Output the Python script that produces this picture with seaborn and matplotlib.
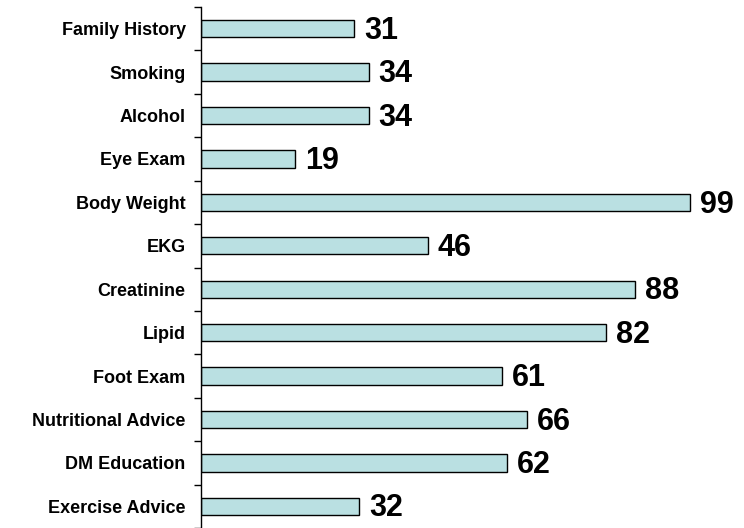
import matplotlib
matplotlib.use("Agg")
import matplotlib.pyplot as plt
import seaborn as sns
import pandas as pd

categories = ["Family History", "Smoking", "Alcohol", "Eye Exam", "Body Weight", "EKG",
              "Creatinine", "Lipid", "Foot Exam", "Nutritional Advice", "DM Education",
              "Exercise Advice"]
values = [31, 34, 34, 19, 99, 46, 88, 82, 61, 66, 62, 32]

sns.set_style("white")
plt.rcParams['font.family'] = ['Liberation Sans', 'DejaVu Sans']
plt.rcParams['text.color'] = 'black'
plt.rcParams['ytick.color'] = 'black'
plt.rcParams['ytick.labelcolor'] = 'black'

df = pd.DataFrame({"item": categories, "pct": values})

fig = plt.figure(figsize=(7.44, 5.28), dpi=100)
ax = fig.add_axes([201 / 744, 0.0, 1 - 201 / 744, 1 - 7 / 528])

sns.barplot(data=df, x="pct", y="item", orient="h", color="#BAE0E2",
            edgecolor="black", linewidth=1.0, width=0.40, saturation=1, ax=ax)

for i, v in enumerate(values):
    ax.text(v + 2.0, i + 0.05, str(v), va="center", ha="left", fontsize=22,
            fontweight="bold", color="black")

ax.set_xlim(0, 110)
ax.set_ylim(11.5 - 4 / 43.7, -0.5)
ax.set_xlabel("")
ax.set_ylabel("")
ax.set_xticks([])

ax.set_yticks(range(len(categories)))
ax.set_yticklabels(categories, fontsize=13, fontweight="bold", color="black")
ax.tick_params(axis="y", which="major", length=0, pad=11)
ax.set_yticks([i - 0.5 for i in range(len(categories) + 1)], minor=True)
ax.tick_params(axis="y", which="minor", left=True, length=5, width=1,
               color="black", direction="out")

for side in ["top", "right", "bottom"]:
    ax.spines[side].set_visible(False)
ax.spines["left"].set_color("black")
ax.spines["left"].set_linewidth(1.0)

fig.savefig("out.png", dpi=100)
